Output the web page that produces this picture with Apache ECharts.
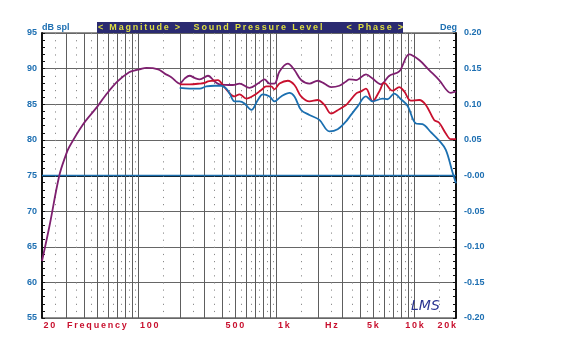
<!DOCTYPE html>
<html>
<head>
<meta charset="utf-8">
<script src="https://cdn.jsdelivr.net/npm/echarts@6/dist/echarts.min.js"></script>
<style>
  html, body { margin: 0; padding: 0; background: #fff; }
  #chart { width: 577px; height: 349px; }
</style>
</head>
<body>
<div id="chart"></div>
<script>
// Frequency response of a loudspeaker: three SPL curves (dB) and one phase trace.
const purpleHz = [20, 22.6, 26.7, 29.8, 31.5, 39.4, 50.5, 58, 70.5, 85.6, 96, 102, 114, 139, 155, 173, 199, 216, 235, 255, 278, 319, 356, 387, 483, 540, 638, 733, 819, 891, 967, 1052, 1208, 1350, 1509, 1734, 1990, 2226, 2488, 2855, 3194, 3373, 3772, 4454, 4973, 5718, 6568, 7756, 9162, 10822, 12781, 15096, 18344, 20000];
const purpleDb = [63.0, 67.8, 75.0, 77.9, 79.0, 82.1, 84.7, 86.3, 88.2, 89.5, 89.8, 89.9, 90.1, 89.9, 89.3, 88.8, 87.9, 88.6, 89.0, 88.7, 88.5, 89.0, 88.2, 87.8, 87.7, 87.9, 87.3, 87.9, 88.5, 87.9, 87.9, 89.6, 90.7, 89.8, 88.4, 87.9, 88.3, 87.9, 87.4, 87.6, 88.2, 88.5, 88.4, 89.2, 88.6, 87.8, 89.0, 89.6, 92.0, 91.2, 89.8, 88.4, 86.6, 86.8];

const redHz = [199, 235, 278, 302, 319, 346, 377, 409, 445, 497, 540, 604, 694, 776, 843, 916, 967, 1052, 1208, 1350, 1509, 1734, 1990, 2226, 2488, 2855, 3194, 3373, 3772, 4099, 4454, 4973, 5560, 6042, 6937, 7756, 8429, 9425, 10822, 12096, 13886, 15096, 16876, 18344, 20000];
const redDb = [87.8, 87.8, 87.9, 88.0, 88.2, 88.3, 88.4, 87.7, 86.8, 86.1, 86.4, 85.8, 86.3, 87.0, 87.5, 87.5, 87.1, 87.9, 88.3, 87.7, 86.1, 85.4, 85.6, 84.9, 83.7, 84.3, 84.9, 85.4, 86.5, 86.8, 87.2, 85.4, 86.8, 88.0, 86.9, 87.4, 86.8, 85.5, 85.6, 84.9, 82.8, 82.4, 80.9, 80.1, 80.1];

const blueHz = [199, 235, 278, 310, 356, 399, 433, 458, 497, 540, 587, 657, 733, 796, 891, 967, 1082, 1242, 1350, 1509, 1734, 2047, 2418, 2776, 3194, 3373, 3874, 4454, 4973, 5873, 6383, 7136, 7979, 8906, 10244, 11430, 13148, 15096, 16876, 18838, 20000];
const blueDb = [87.3, 87.2, 87.2, 87.5, 87.6, 87.6, 87.2, 86.5, 85.4, 85.4, 85.1, 84.2, 85.6, 86.4, 86.1, 85.4, 86.1, 86.6, 86.1, 84.2, 83.5, 82.8, 81.2, 81.5, 82.6, 83.2, 84.7, 86.1, 85.4, 85.8, 85.7, 86.5, 85.7, 84.8, 82.3, 82.2, 81.1, 79.9, 78.6, 75.5, 73.9];

const phaseHz = [20, 20000];
const phaseDeg = [0, 0];

// Frequency axis labels and where they sit on the axis
const xLabelText = ['20', 'Frequency', '100', '500', '1k', 'Hz', '5k', '10k', '20k'];
const xLabelHz = [20, 50, 100, 500, 1000, 2500, 5000, 10000, 20000];
const xLabelAlign = ['left', 'center', 'left', 'center', 'left', 'center', 'center', 'center', 'right'];

const FONT = '"Liberation Sans", Arial, sans-serif';
const BLUE = '#1b6fb0';
const RED = '#c8102e';
const PURPLE = '#7e1f6f';
const LABEL_BLUE = '#1d6fb2';
const spaced = s => s.split('').join('\u2009');
const zip = (a, b) => a.map((v, i) => [v, b[i]]);

// Log-frequency grid: solid at 1..9 per decade, dotted half steps between them
const gridRows = [];
[10, 100, 1000, 10000].forEach(d => {
  for (let m = 1; m <= 9; m++) {
    const f = m * d;
    if (f > 20 && f < 20000) gridRows.push([f, 75, 0]);
    const h = (m + 0.5) * d;
    if (h > 20 && h < 20000) gridRows.push([h, 75, 1]);
  }
});

const chart = echarts.init(document.getElementById('chart'), null, { renderer: 'canvas' });

chart.setOption({
  animation: false,
  backgroundColor: '#fff',
  grid: { left: 42, right: 121, top: 33, bottom: 31, show: true, borderColor: '#222', borderWidth: 1 },
  xAxis: {
    type: 'log', logBase: 10, min: 20, max: 20000,
    axisLine: { show: true, lineStyle: { color: '#111', width: 2 } },
    axisTick: { show: false }, axisLabel: { show: false },
    splitLine: { show: false }, minorSplitLine: { show: false }
  },
  yAxis: [
    {
      type: 'value', min: 55, max: 95, interval: 5, position: 'left',
      axisLine: { show: true, lineStyle: { color: '#111', width: 2 } },
      axisTick: { show: true, inside: true, length: 3, lineStyle: { color: '#111' } },
      minorTick: { show: true, splitNumber: 5, length: 3, lineStyle: { color: '#111' } },
      splitLine: { show: true, lineStyle: { color: '#666', width: 1 } },
      axisLabel: { color: LABEL_BLUE, fontFamily: FONT, fontWeight: 'bold', fontSize: 9, margin: 5 }
    },
    {
      type: 'value', min: -0.2, max: 0.2, interval: 0.05, position: 'right',
      axisLine: { show: true, lineStyle: { color: '#111', width: 2 } },
      axisTick: { show: true, inside: true, length: 3, lineStyle: { color: '#111' } },
      minorTick: { show: true, splitNumber: 5, length: 3, lineStyle: { color: '#111' } },
      splitLine: { show: false },
      axisLabel: {
        color: LABEL_BLUE, fontFamily: FONT, fontWeight: 'bold', fontSize: 9, margin: 8,
        formatter: v => (Math.abs(v) < 1e-9 ? '-0.00' : v.toFixed(2))
      }
    }
  ],
  series: [
    {
      type: 'custom', name: 'grid', silent: true, z: 1, clip: false,
      data: gridRows, encode: { x: 0, y: 1 },
      renderItem: (params, api) => {
        const cs = params.coordSys;
        const x = Math.round(api.coord([api.value(0), api.value(1)])[0]) + 0.5;
        const dotted = api.value(2) === 1;
        return {
          type: 'line', silent: true,
          shape: { x1: x, y1: cs.y, x2: x, y2: cs.y + cs.height },
          style: dotted
            ? { stroke: '#8a8a8a', lineWidth: 1, lineDash: [1.2, 5.925] }
            : { stroke: '#5e5e5e', lineWidth: 1 }
        };
      }
    },
    {
      type: 'line', name: 'phase', yAxisIndex: 1, z: 3,
      data: zip(phaseHz, phaseDeg), showSymbol: false,
      lineStyle: { color: BLUE, width: 1.5 }
    },
    {
      type: 'line', name: 'spl-a', z: 4, smooth: 0.35, showSymbol: false,
      data: zip(purpleHz, purpleDb),
      lineStyle: { color: PURPLE, width: 1.8 }
    },
    {
      type: 'line', name: 'spl-b', z: 5, smooth: 0.35, showSymbol: false,
      data: zip(redHz, redDb),
      lineStyle: { color: RED, width: 1.8 }
    },
    {
      type: 'line', name: 'spl-c', z: 6, smooth: 0.35, showSymbol: false,
      data: zip(blueHz, blueDb),
      lineStyle: { color: BLUE, width: 1.8 }
    }
  ]
});

// Header bar, unit captions, frequency labels and signature
const yTop = chart.convertToPixel({ yAxisIndex: 0 }, 95);
const yBottom = chart.convertToPixel({ yAxisIndex: 0 }, 55);
const xLeft = chart.convertToPixel({ xAxisIndex: 0 }, 20);
const xRight = chart.convertToPixel({ xAxisIndex: 0 }, 20000);

const textStyle = (text, x, y, align, fill, size) => ({
  text, x, y, align, verticalAlign: 'middle', fill,
  fontFamily: FONT, fontWeight: 'bold', fontSize: size || 9
});

const graphics = [
  { type: 'rect', id: 'bar', shape: { x: 97, y: yTop - 11, width: 306, height: 11 }, style: { fill: '#2a2a70' }, z: 10 },
  { type: 'text', id: 'barL', style: textStyle(spaced('< Magnitude >'), 98, yTop - 5.5, 'left', '#dede42'), z: 11 },
  { type: 'text', id: 'barM', style: textStyle(spaced('Sound Pressure Level'), 258, yTop - 5.5, 'center', '#dede42'), z: 11 },
  { type: 'text', id: 'barR', style: textStyle(spaced('< Phase >'), 403, yTop - 5.5, 'right', '#dede42'), z: 11 },
  { type: 'text', id: 'unitL', style: textStyle('dB spl', xLeft, yTop - 5, 'left', LABEL_BLUE), z: 11 },
  { type: 'text', id: 'unitR', style: textStyle('Deg', xRight + 1, yTop - 5, 'right', LABEL_BLUE), z: 11 },
  {
    type: 'text', id: 'sig', z: 11,
    style: { text: 'LMS', x: 411, y: yBottom - 12, verticalAlign: 'middle', fill: '#2b3592',
             fontFamily: '"DejaVu Sans", sans-serif', fontStyle: 'italic', fontSize: 14 }
  }
];

xLabelText.forEach((t, i) => {
  const x = chart.convertToPixel({ xAxisIndex: 0 }, xLabelHz[i]);
  const a = xLabelAlign[i];
  const dx = a === 'left' ? 1.5 : 0;
  graphics.push({
    type: 'text', id: 'xl' + i, z: 11,
    style: textStyle(spaced(t), x + dx, yBottom + 8, a, RED)
  });
});

chart.setOption({ graphic: graphics });
</script>
</body>
</html>
